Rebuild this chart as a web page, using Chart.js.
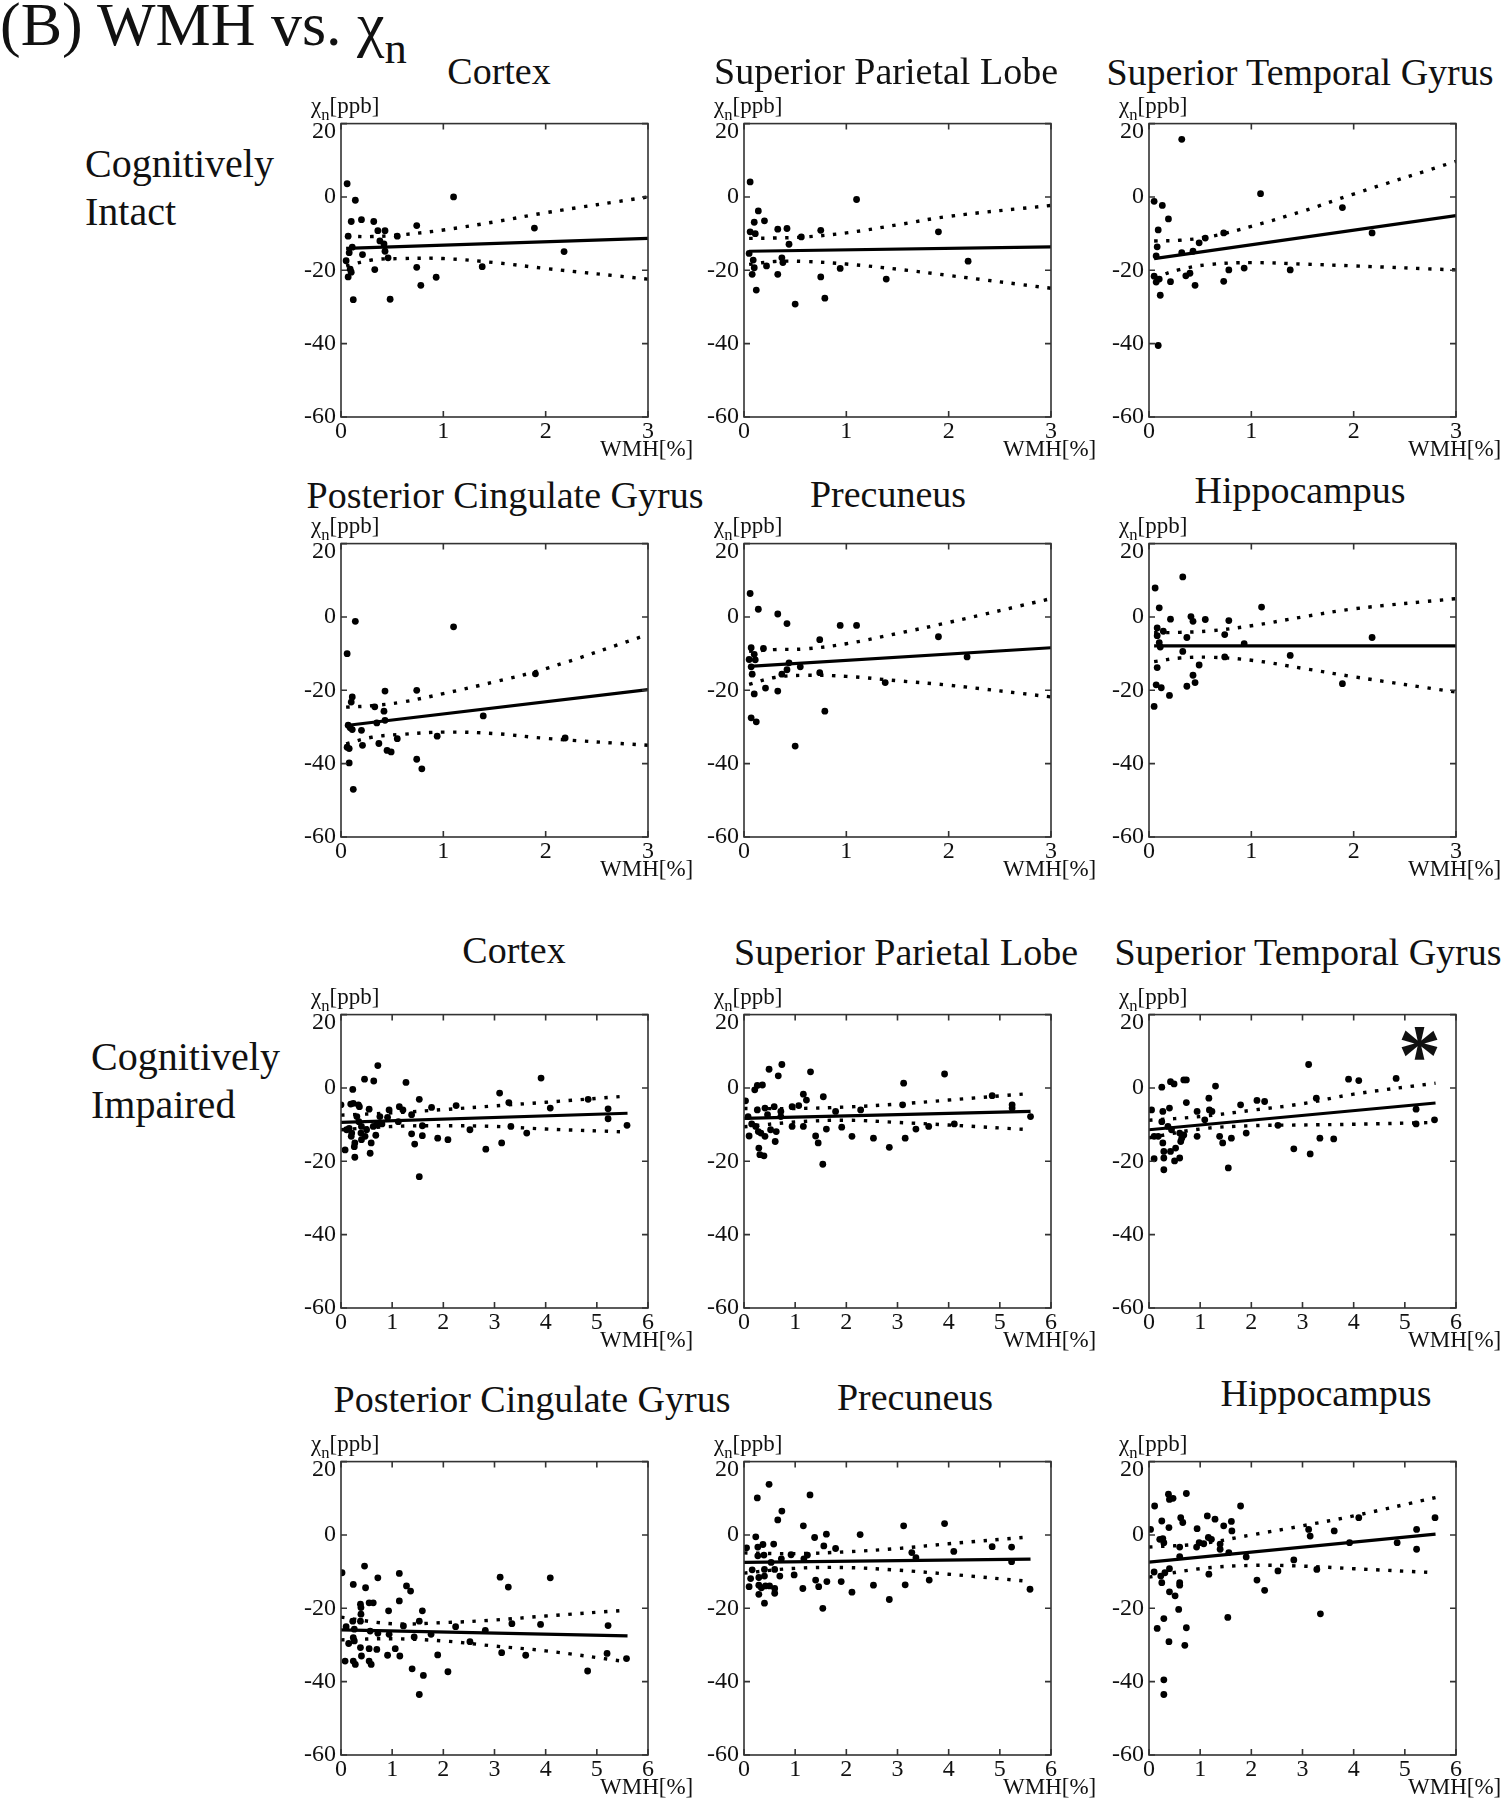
<!DOCTYPE html>
<html lang="en">

<head>
  <meta charset="UTF-8">
  <title>WMH vs. χn</title>
  <script src="https://cdn.jsdelivr.net/npm/chart.js"></script>
  <style>
    body {
      margin: 0;
      width: 1509px;
      height: 1800px;
      position: relative;
      overflow: hidden;
      background: #fff;
      color: #111;
      font-family: "Liberation Serif", "Times New Roman", serif;
    }

    .txt {
      position: absolute;
      white-space: nowrap;
      line-height: 1;
    }

    .txt sub {
      font-size: 0.72em;
      vertical-align: -0.4em;
      line-height: 0;
    }

    canvas {
      position: absolute;
    }
  </style>
</head>

<body>
  <script>
    // ---- axes / ticks ----
    const yTicks = [-60, -40, -20, 0, 20];
    const xTicksIntact = [0, 1, 2, 3];
    const xTicksImpaired = [0, 1, 2, 3, 4, 5, 6];

    const regionTitles = ['Cortex', 'Superior Parietal Lobe', 'Superior Temporal Gyrus',
      'Posterior Cingulate Gyrus', 'Precuneus', 'Hippocampus'];

    // x positions where the fit line and the confidence curves were read
    const fitXIntact = [0.05, 3];
    const fitXImpaired = [0, 5.6];
    const bandXIntact = [0.05, 0.3, 0.6, 1, 1.5, 2, 3];
    const bandXImpaired = [0, 1, 2, 3, 4, 5.6];

    // ---- Cognitively intact : [WMH %, chi_n ppb] ----
    const intactCortexPts = [[0.06, 3.6], [0.14, -0.9], [0.10, -6.7], [0.20, -6.2], [0.32, -6.7], [0.07, -10.7], [0.11, -13.7], [0.08, -15.2], [0.21, -15.7], [0.05, -17.4], [0.09, -19.7], [0.10, -20.5], [0.07, -21.8], [0.12, -28.0], [0.33, -19.8], [0.36, -9.2], [0.38, -12.0], [0.43, -9.2], [0.42, -12.8], [0.43, -14.8], [0.46, -16.6], [0.48, -27.9], [0.55, -10.7], [0.74, -7.8], [0.74, -19.2], [0.78, -24.1], [0.93, -21.9], [1.10, 0], [1.38, -19.0], [1.89, -8.5], [2.18, -14.9]];
    const intactCortexFit = [-14.0, -11.3];
    const intactCortexUp = [-10.7, -10.8, -10.3, -9.0, -6.8, -4.3, 0];
    const intactCortexLo = [-18.8, -17.2, -16.8, -16.8, -17.9, -19.5, -22.4];

    const intactSplPts = [[0.06, 4.1], [0.06, -9.5], [0.10, -6.9], [0.14, -3.8], [0.20, -6.5], [0.11, -10.0], [0.05, -15.4], [0.09, -17.2], [0.10, -19.3], [0.08, -21.1], [0.12, -25.4], [0.22, -18.8], [0.33, -8.8], [0.33, -21.1], [0.42, -8.6], [0.37, -16.6], [0.38, -17.9], [0.44, -12.9], [0.50, -29.2], [0.56, -10.9], [0.75, -9.1], [0.75, -21.8], [0.79, -27.6], [0.94, -19.5], [1.10, -0.7], [1.39, -22.4], [1.90, -9.5], [2.19, -17.5]];
    const intactSplFit = [-14.8, -13.6];
    const intactSplUp = [-11.3, -11.2, -10.9, -9.8, -7.6, -5.3, -2.3];
    const intactSplLo = [-18.4, -17.6, -17.6, -18.3, -19.7, -21.4, -24.9];

    const intactStgPts = [[0.32, 15.7], [0.05, -1.2], [0.13, -2.3], [0.19, -6.0], [0.09, -9.0], [0.08, -13.6], [0.07, -16.1], [0.05, -21.6], [0.07, -23.2], [0.10, -22.4], [0.11, -26.8], [0.09, -40.5], [0.21, -23.1], [0.32, -15.2], [0.36, -21.5], [0.40, -20.8], [0.43, -14.8], [0.45, -24.1], [0.49, -12.5], [0.55, -11.2], [0.73, -9.8], [0.73, -23.0], [0.78, -19.9], [0.93, -19.4], [1.09, 0.9], [1.38, -19.9], [1.89, -2.9], [2.18, -9.8]];
    const intactStgFit = [-16.8, -5.1];
    const intactStgUp = [-12.0, -11.8, -10.8, -8.0, -3.9, 0.8, 9.7];
    const intactStgLo = [-22.0, -19.8, -18.4, -17.9, -18.3, -18.8, -19.9];

    const intactPcgPts = [[0.14, -1.2], [0.06, -10.0], [0.11, -21.8], [0.10, -23.2], [0.43, -20.2], [0.74, -20.0], [1.10, -2.7], [1.90, -15.5], [1.39, -27.0], [0.33, -24.5], [0.42, -25.7], [0.43, -28.2], [0.35, -28.9], [0.07, -29.5], [0.09, -30.2], [0.11, -30.7], [0.20, -30.9], [0.55, -33.2], [0.37, -34.5], [0.21, -35.0], [0.06, -35.5], [0.08, -35.9], [0.45, -36.4], [0.49, -36.8], [0.94, -32.5], [0.08, -39.8], [0.74, -38.8], [0.79, -41.4], [0.12, -47.0], [2.19, -33.0]];
    const intactPcgFit = [-29.6, -19.8];
    const intactPcgUp = [-24.6, -24.2, -23.2, -20.9, -17.7, -14.1, -4.8];
    const intactPcgLo = [-34.6, -32.8, -32.0, -31.4, -31.8, -33.1, -35.0];

    const intactPrecPts = [[0.06, 6.4], [0.14, 2.1], [0.33, 0.8], [0.42, -1.8], [0.94, -2.3], [1.10, -2.3], [1.90, -5.4], [0.74, -6.2], [0.07, -8.4], [0.19, -8.6], [0.10, -10.2], [0.05, -11.6], [0.11, -11.7], [0.07, -13.6], [0.08, -15.6], [0.44, -12.5], [0.55, -13.6], [0.42, -14.4], [0.37, -15.6], [0.74, -15.2], [0.21, -19.4], [0.33, -20.2], [0.10, -21.0], [0.07, -27.5], [0.12, -28.6], [0.79, -25.7], [0.50, -35.2], [1.38, -17.9], [2.18, -10.9]];
    const intactPrecFit = [-13.5, -8.4];
    const intactPrecUp = [-9.4, -8.9, -8.7, -7.3, -4.5, -1.5, 5.0];
    const intactPrecLo = [-18.4, -16.5, -15.9, -16.2, -17.4, -18.6, -21.8];

    const intactHipPts = [[0.06, 7.9], [0.33, 10.9], [0.10, 2.5], [1.10, 2.7], [0.21, -0.6], [0.41, 0.1], [0.43, -1.2], [0.55, -0.7], [0.78, -1.0], [0.08, -3.0], [0.14, -3.9], [0.08, -5.1], [0.37, -5.6], [0.74, -4.8], [0.10, -7.0], [0.11, -8.2], [0.93, -7.3], [2.18, -5.6], [0.33, -9.4], [0.74, -10.9], [1.38, -10.5], [0.08, -13.8], [0.49, -13.1], [0.43, -15.9], [0.45, -17.9], [0.07, -18.5], [0.12, -19.3], [0.37, -18.9], [0.20, -21.4], [1.89, -18.2], [0.05, -24.4]];
    const intactHipFit = [-7.9, -7.9];
    const intactHipUp = [-4.3, -4.2, -3.8, -2.4, 0, 2.2, 5.0];
    const intactHipLo = [-12.2, -11.2, -11.0, -11.8, -14.0, -16.3, -20.5];

    // ---- Cognitively impaired ----
    const impCortexPts = [[0.0, -4.6], [0.08, -16.9], [0.23, -0.4], [0.24, -4.2], [0.19, -4.4], [0.27, -18.9], [0.26, -16.0], [0.27, -15.0], [0.16, -11.0], [0.21, -12.3], [0.20, -13.2], [0.11, -11.4], [0.34, -4.6], [0.36, -5.1], [0.39, -12.3], [0.40, -14.1], [0.35, -9.2], [0.46, 2.4], [0.47, -13.2], [0.55, -5.8], [0.57, -17.8], [0.59, -15.0], [0.64, 1.9], [0.68, -12.9], [0.72, 6.1], [0.70, -10.1], [0.94, -6.0], [0.91, -8.0], [1.12, -9.2], [1.14, -5.1], [1.21, -6.0], [1.27, 1.5], [1.38, -7.3], [1.38, -12.5], [1.44, -15.3], [1.53, -3.1], [1.53, -24.2], [1.59, -10.3], [1.59, -13.0], [1.77, -5.3], [1.89, -13.7], [2.09, -14.1], [2.25, -4.8], [2.52, -11.4], [2.83, -16.7], [3.10, -1.4], [3.14, -15.0], [3.28, -4.0], [3.32, -10.5], [3.63, -12.3], [3.91, 2.7], [4.09, -5.5], [4.83, -3.1], [5.22, -5.7], [5.22, -8.4], [5.59, -10.2], [0.31, -7.8], [0.40, -10.5], [0.50, -11.4], [0.80, -9.8], [0.63, -10.5], [0.76, -7.8]];
    const impCortexFit = [-9.4, -6.9];
    const impCortexUp = [-7.4, -6.8, -5.9, -4.9, -3.9, -2.2];
    const impCortexLo = [-11.4, -10.5, -10.3, -10.5, -11.2, -12.0];

    const impSplPts = [[0.03, -3.5], [0.08, -7.8], [0.10, -13.1], [0.15, -9.8], [0.23, -10.5], [0.21, -0.5], [0.26, 0.7], [0.36, 0.8], [0.26, -6.0], [0.28, -11.9], [0.29, -16.4], [0.31, -18.2], [0.39, -18.5], [0.33, -12.3], [0.41, -5.5], [0.41, -13.2], [0.46, -7.3], [0.49, 5.1], [0.52, -11.4], [0.59, -5.1], [0.61, -14.6], [0.63, -11.9], [0.67, 3.3], [0.72, -7.8], [0.74, 6.4], [0.72, -6.4], [0.94, -5.1], [0.94, -10.5], [1.07, -4.8], [1.16, -1.7], [1.16, -10.5], [1.22, -3.3], [1.30, 4.4], [1.40, -13.1], [1.45, -15.0], [1.55, -2.4], [1.54, -20.8], [1.61, -11.2], [1.79, -6.4], [1.91, -10.7], [2.11, -13.2], [2.28, -6.0], [2.53, -13.7], [2.84, -16.2], [3.12, 1.3], [3.10, -4.6], [3.15, -13.7], [3.36, -11.2], [3.61, -10.5], [3.92, 3.8], [4.11, -9.8], [4.85, -2.1], [5.24, -4.6], [5.24, -5.5], [5.60, -7.8]];
    const impSplFit = [-8.3, -6.4];
    const impSplUp = [-5.6, -5.6, -5.2, -4.4, -3.3, -1.5];
    const impSplLo = [-10.6, -9.3, -8.8, -9.4, -10.1, -11.4];

    const impStgPts = [[0.05, -6.0], [0.10, -19.3], [0.10, -13.2], [0.18, -13.2], [0.25, 0.2], [0.27, -6.4], [0.25, -9.2], [0.27, -15.0], [0.29, -17.3], [0.29, -19.1], [0.29, -22.3], [0.37, -10.5], [0.40, -5.5], [0.42, 1.7], [0.42, -17.3], [0.44, -11.4], [0.49, 1.1], [0.50, -19.9], [0.52, -16.4], [0.60, -12.3], [0.62, -14.6], [0.60, -19.1], [0.64, -13.7], [0.68, 2.2], [0.73, 2.2], [0.73, -4.0], [0.68, -12.8], [0.94, -6.4], [0.94, -13.2], [1.09, -8.7], [1.17, -2.8], [1.18, -6.0], [1.23, -6.4], [1.30, 0.5], [1.38, -13.2], [1.44, -15.0], [1.55, -21.8], [1.61, -13.7], [1.79, -4.6], [1.90, -12.3], [2.11, -3.4], [2.26, -3.7], [2.52, -10.2], [2.83, -16.6], [3.12, 6.4], [3.15, -18.0], [3.27, -2.8], [3.34, -13.7], [3.61, -13.9], [3.90, 2.4], [4.10, 2.0], [4.83, 2.6], [5.22, -5.8], [5.22, -9.8], [5.58, -8.7]];
    const impStgFit = [-11.4, -4.1];
    const impStgUp = [-8.8, -7.8, -6.1, -4.3, -1.7, 1.3];
    const impStgLo = [-13.6, -11.2, -10.3, -10.1, -9.9, -9.4];

    const impPcgPts = [[0.02, -10.3], [0.46, -8.5], [0.24, -13.5], [0.48, -14.4], [1.14, -10.5], [0.72, -11.7], [1.28, -13.9], [1.36, -15.3], [3.11, -11.5], [3.27, -14.2], [4.09, -11.7], [0.38, -18.9], [0.39, -19.8], [0.39, -21.6], [0.55, -18.5], [0.63, -18.5], [0.93, -20.7], [1.14, -18.0], [1.59, -20.7], [0.23, -23.5], [0.38, -23.5], [0.10, -25.0], [0.26, -25.7], [0.57, -26.2], [0.72, -26.8], [0.94, -27.1], [1.22, -24.8], [1.43, -27.8], [1.53, -23.5], [1.76, -27.1], [2.24, -25.0], [2.52, -29.1], [2.82, -26.0], [3.34, -24.2], [3.90, -24.4], [5.22, -24.7], [0.15, -29.6], [0.24, -28.0], [0.26, -28.9], [0.08, -34.4], [0.24, -34.4], [0.28, -35.3], [0.38, -30.7], [0.40, -33.0], [0.55, -34.4], [0.59, -35.3], [0.55, -31.0], [0.70, -31.2], [0.91, -32.8], [1.06, -31.0], [1.15, -33.0], [1.39, -36.5], [1.53, -43.5], [1.61, -38.3], [1.89, -32.7], [2.09, -37.3], [3.14, -32.1], [3.61, -32.8], [4.82, -37.1], [5.20, -32.3], [5.58, -33.7]];
    const impPcgFit = [-25.9, -27.5];
    const impPcgUp = [-22.4, -24.2, -23.9, -23.2, -22.1, -20.5];
    const impPcgLo = [-28.6, -28.3, -28.9, -30.3, -31.6, -34.6];

    const impPrecPts = [[0.05, -3.5], [0.10, -14.1], [0.13, -11.9], [0.16, -9.5], [0.23, -0.5], [0.26, 10.1], [0.27, -3.3], [0.27, -5.7], [0.29, -11.6], [0.29, -13.7], [0.29, -16.2], [0.34, -14.4], [0.37, -2.6], [0.39, -5.5], [0.40, -9.4], [0.40, -11.2], [0.40, -18.6], [0.42, -13.9], [0.49, 13.8], [0.50, -13.9], [0.53, -7.5], [0.58, -2.5], [0.60, -9.4], [0.60, -14.6], [0.60, -15.9], [0.66, 4.1], [0.70, -11.2], [0.73, -6.5], [0.74, 6.5], [0.92, -5.4], [0.98, -10.9], [1.16, 2.5], [1.15, -14.6], [1.17, -6.5], [1.24, -5.5], [1.29, 10.9], [1.38, -0.7], [1.40, -12.3], [1.46, -14.1], [1.56, -3.0], [1.54, -20.0], [1.61, 0.2], [1.62, -12.7], [1.79, -3.7], [1.90, -12.7], [2.11, -15.6], [2.27, 0.1], [2.53, -13.7], [2.84, -17.6], [3.12, 2.5], [3.15, -13.6], [3.28, -4.8], [3.36, -6.2], [3.62, -12.3], [3.92, 3.1], [4.10, -4.5], [4.85, -3.2], [5.23, -3.3], [5.23, -7.3], [5.59, -14.8]];
    const impPrecFit = [-7.5, -6.6];
    const impPrecUp = [-4.9, -5.1, -4.6, -3.7, -2.4, -0.5];
    const impPrecLo = [-10.4, -9.1, -8.9, -9.6, -10.7, -12.7];

    const impHipPts = [[0.03, 1.5], [0.11, 7.9], [0.10, -10.1], [0.16, -25.5], [0.21, -1.2], [0.23, -11.2], [0.25, 3.8], [0.25, -13.0], [0.27, -1.0], [0.29, -2.1], [0.29, -22.8], [0.29, -39.5], [0.29, -43.5], [0.31, -10.3], [0.38, 11.1], [0.39, 2.0], [0.40, 9.7], [0.40, -9.2], [0.40, -15.5], [0.39, -29.1], [0.47, 10.0], [0.51, -16.6], [0.60, -3.3], [0.60, -5.9], [0.60, -13.0], [0.60, -13.7], [0.58, -20.3], [0.62, 4.7], [0.66, 3.4], [0.70, -30.1], [0.73, 11.3], [0.73, -25.3], [0.94, 1.7], [0.93, -3.3], [0.98, -2.1], [1.07, -2.4], [1.14, 5.2], [1.16, -0.7], [1.17, -10.7], [1.22, -1.2], [1.29, 4.3], [1.39, -2.5], [1.39, -3.9], [1.46, 2.5], [1.56, -4.8], [1.54, -22.5], [1.61, 3.7], [1.62, 1.1], [1.79, 7.9], [1.90, -6.0], [2.11, -12.3], [2.26, -15.1], [2.52, -9.8], [2.83, -6.8], [3.12, 1.5], [3.15, -0.3], [3.28, -9.4], [3.35, -21.5], [3.62, 1.1], [3.92, -2.1], [4.10, 4.7], [4.85, -2.1], [5.23, 1.5], [5.23, -3.9], [5.59, 4.7]];
    const impHipFit = [-7.4, 0.2];
    const impHipUp = [-3.3, -2.4, 0, 2.5, 5.2, 10.2];
    const impHipLo = [-11.5, -9.2, -8.3, -8.5, -9.2, -10.3];

    // ---- layout (px) ----
    const colLeft = [341, 744, 1149];
    const rowTop = [123, 543, 1014, 1461];
    const plotW = 307, plotH = 294;
    const padL = 70, padT = 20, padR = 20, padB = 40;

    const serif = '"Liberation Serif", "Times New Roman", "DejaVu Serif", serif';
    Chart.defaults.font.family = serif;
    Chart.defaults.font.size = 24;
    Chart.defaults.color = '#111';

    // frame box + inward ticks on all four sides
    const frame = {
      id: 'frame',
      afterDraw(chart) {
        const { ctx, chartArea: a, scales: { x, y } } = chart;
        ctx.save();
        ctx.strokeStyle = '#333';
        ctx.lineWidth = 1.6;
        ctx.strokeRect(a.left, a.top, a.right - a.left, a.bottom - a.top);
        ctx.beginPath();
        x.ticks.forEach(t => {
          const px = x.getPixelForValue(t.value);
          ctx.moveTo(px, a.bottom); ctx.lineTo(px, a.bottom - 6);
          ctx.moveTo(px, a.top); ctx.lineTo(px, a.top + 6);
        });
        y.ticks.forEach(t => {
          const py = y.getPixelForValue(t.value);
          ctx.moveTo(a.left, py); ctx.lineTo(a.left + 6, py);
          ctx.moveTo(a.right, py); ctx.lineTo(a.right - 6, py);
        });
        ctx.stroke();
        ctx.restore();
      }
    };

    function addText(html, left, top, size, extra) {
      const d = document.createElement('div');
      d.className = 'txt';
      d.innerHTML = html;
      d.style.left = left + 'px';
      d.style.top = top + 'px';
      d.style.fontSize = size + 'px';
      if (extra) Object.assign(d.style, extra);
      document.body.appendChild(d);
      return d;
    }

    function panel(row, col, title, titleCx, titleBase, pts, fit, up, lo, impaired) {
      const left = colLeft[col], top = rowTop[row];
      const fitX = impaired ? fitXImpaired : fitXIntact;
      const bandX = impaired ? bandXImpaired : bandXIntact;
      const xTicks = impaired ? xTicksImpaired : xTicksIntact;

      const cv = document.createElement('canvas');
      cv.width = padL + plotW + padR;
      cv.height = padT + plotH + padB;
      cv.style.left = (left - padL) + 'px';
      cv.style.top = (top - padT) + 'px';
      document.body.appendChild(cv);

      const curve = {
        showLine: true, pointRadius: 0, borderColor: '#000', borderWidth: 3.4,
        borderDash: [3.4, 8.6], tension: 0.4
      };

      new Chart(cv, {
        type: 'scatter',
        data: {
          datasets: [
            {
              data: pts.map(p => ({ x: p[0], y: p[1] })),
              pointRadius: 3.4, pointBackgroundColor: '#000', pointBorderWidth: 0
            },
            {
              data: fitX.map((x, i) => ({ x: x, y: fit[i] })),
              showLine: true, pointRadius: 0, borderColor: '#000', borderWidth: 3.2
            },
            Object.assign({ data: bandX.map((x, i) => ({ x: x, y: up[i] })) }, curve),
            Object.assign({ data: bandX.map((x, i) => ({ x: x, y: lo[i] })) }, curve)
          ]
        },
        options: {
          responsive: false,
          animation: false,
          devicePixelRatio: 1,
          layout: { padding: { top: padT, right: padR, left: 0, bottom: 0 } },
          plugins: { legend: { display: false }, tooltip: { enabled: false } },
          scales: {
            x: {
              type: 'linear', min: 0, max: xTicks[xTicks.length - 1],
              afterBuildTicks: s => { s.ticks = xTicks.map(v => ({ value: v })); },
              afterFit: s => { s.height = padB; },
              ticks: { padding: 0, maxRotation: 0, autoSkip: false, font: { family: serif, size: 24 } },
              grid: { display: false, drawTicks: false }, border: { display: false }
            },
            y: {
              min: -60, max: 20,
              afterBuildTicks: s => { s.ticks = yTicks.map(v => ({ value: v })); },
              afterFit: s => { s.width = padL; },
              // the top label sits a little below its tick, as in the figure
              ticks: {
                padding: 5, autoSkip: false,
                font: { family: serif, size: 24, lineHeight: 0.65 },
                callback: v => v === 20 ? ['', '20'] : String(v)
              },
              grid: { display: false, drawTicks: false }, border: { display: false }
            }
          }
        },
        plugins: [frame]
      });

      // texts around the panel
      addText(title, titleCx, titleBase - 32, 38, { transform: 'translateX(-50%)' });
      addText('χ<sub>n</sub>[ppb]', left - 30, top - 29, 23);
      addText('WMH[%]', left + plotW - 48, top + plotH + 20, 23);
    }

    // header and group labels
    addText('(B) WMH vs. χ<sub>n</sub>', 0, -7, 62);
    addText('Cognitively<br>Intact', 85, 140, 40, { lineHeight: '48px' });
    addText('Cognitively<br>Impaired', 91, 1033, 40, { lineHeight: '48px' });

    panel(0, 0, regionTitles[0], 499, 84, intactCortexPts, intactCortexFit, intactCortexUp, intactCortexLo, false);
    panel(0, 1, regionTitles[1], 886, 84, intactSplPts, intactSplFit, intactSplUp, intactSplLo, false);
    panel(0, 2, regionTitles[2], 1300, 85, intactStgPts, intactStgFit, intactStgUp, intactStgLo, false);
    panel(1, 0, regionTitles[3], 505, 508, intactPcgPts, intactPcgFit, intactPcgUp, intactPcgLo, false);
    panel(1, 1, regionTitles[4], 888, 507, intactPrecPts, intactPrecFit, intactPrecUp, intactPrecLo, false);
    panel(1, 2, regionTitles[5], 1300, 503, intactHipPts, intactHipFit, intactHipUp, intactHipLo, false);
    panel(2, 0, regionTitles[0], 514, 963, impCortexPts, impCortexFit, impCortexUp, impCortexLo, true);
    panel(2, 1, regionTitles[1], 906, 965, impSplPts, impSplFit, impSplUp, impSplLo, true);
    panel(2, 2, regionTitles[2], 1308, 965, impStgPts, impStgFit, impStgUp, impStgLo, true);
    panel(3, 0, regionTitles[3], 532, 1412, impPcgPts, impPcgFit, impPcgUp, impPcgLo, true);
    panel(3, 1, regionTitles[4], 915, 1410, impPrecPts, impPrecFit, impPrecUp, impPrecLo, true);
    panel(3, 2, regionTitles[5], 1326, 1406, impHipPts, impHipFit, impHipUp, impHipLo, true);

    // significance mark
    addText('*', 1398, 1012, 86, { fontWeight: 'bold' });
  </script>
</body>

</html>
